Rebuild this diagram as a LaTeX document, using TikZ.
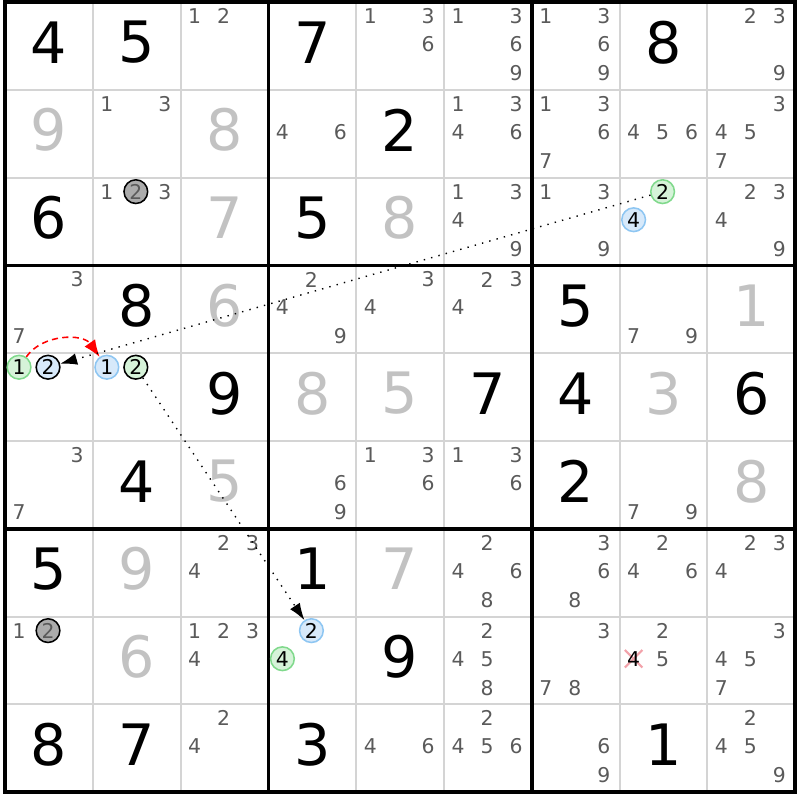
\documentclass[tikz,border=0pt]{standalone}
\usepackage{fontspec}
\setmainfont{DejaVu Sans}
\usetikzlibrary{arrows.meta}

\definecolor{candgray}{HTML}{5A5A5A}
\definecolor{solvedgray}{HTML}{C2C2C2}
\definecolor{gridgray}{HTML}{D4D4D4}
\definecolor{greenline}{HTML}{80D98C}
\definecolor{greenfill}{HTML}{D6F3D9}
\definecolor{blueline}{HTML}{8EC6F2}
\definecolor{bluefill}{HTML}{D7E9FA}
\definecolor{markgray}{HTML}{ABABAB}
\definecolor{crosspink}{HTML}{F2A2AA}

\begin{document}
\begin{tikzpicture}[
    given/.style={font=\fontsize{18.5}{19}\selectfont, text=black, inner sep=0pt},
    solved/.style={given, text=solvedgray},
    cand/.style={font=\fontsize{6.6}{7}\selectfont, text=candgray, inner sep=0pt},
    ring/.style={cand, circle, minimum size=0.27cm, line width=0.5pt, text=black},
    greencand/.style={ring, draw=greenline, fill=greenfill},
    bluecand/.style={ring, draw=blueline, fill=bluefill},
    greenmark/.style={ring, draw=black, fill=greenfill},
    bluemark/.style={ring, draw=black, fill=bluefill},
    graymark/.style={ring, draw=black, fill=markgray, text=candgray},
    link/.style={dotted, line width=0.45pt, -{Latex[length=5.5pt, width=3.8pt]}},
    strong/.style={red, dash pattern=on 2pt off 1.4pt, line width=0.5pt, -{Latex[length=5.5pt, width=4.2pt]}}
  ]
    \useasboundingbox (-0.057,-0.089) rectangle (9.055,9.023);

    \draw[gridgray, line width=0.65pt] (1,0) -- (1,9);
    \draw[gridgray, line width=0.65pt] (2,0) -- (2,9);
    \draw[gridgray, line width=0.65pt] (4,0) -- (4,9);
    \draw[gridgray, line width=0.65pt] (5,0) -- (5,9);
    \draw[gridgray, line width=0.65pt] (7,0) -- (7,9);
    \draw[gridgray, line width=0.65pt] (8,0) -- (8,9);

    \draw[gridgray, line width=0.65pt] (0,1) -- (9,1);
    \draw[gridgray, line width=0.65pt] (0,2) -- (9,2);
    \draw[gridgray, line width=0.65pt] (0,4) -- (9,4);
    \draw[gridgray, line width=0.65pt] (0,5) -- (9,5);
    \draw[gridgray, line width=0.65pt] (0,7) -- (9,7);
    \draw[gridgray, line width=0.65pt] (0,8) -- (9,8);

    \draw[line width=1.2pt] (3,0) -- (3,9);
    \draw[line width=1.2pt] (6,0) -- (6,9);
    \draw[line width=1.2pt] (0,3) -- (9,3);
    \draw[line width=1.2pt] (0,6) -- (9,6);
    \draw[line width=1.3pt] (0,0) -- (9,0) -- (9,9) -- (0,9) -- cycle;

    \node[given] (r1c1) at (0.5,8.54) {4};
    \node[given] (r1c2) at (1.5,8.54) {5};
    \node[cand] (r1c3n1) at (2.16,8.84) {1};
    \node[cand] (r1c3n2) at (2.49,8.84) {2};
    \node[given] (r1c4) at (3.5,8.54) {7};
    \node[cand] (r1c5n1) at (4.16,8.84) {1};
    \node[cand] (r1c5n3) at (4.82,8.84) {3};
    \node[cand] (r1c5n6) at (4.82,8.52) {6};
    \node[cand] (r1c6n1) at (5.16,8.84) {1};
    \node[cand] (r1c6n3) at (5.82,8.84) {3};
    \node[cand] (r1c6n6) at (5.82,8.52) {6};
    \node[cand] (r1c6n9) at (5.82,8.19) {9};
    \node[cand] (r1c7n1) at (6.16,8.84) {1};
    \node[cand] (r1c7n3) at (6.82,8.84) {3};
    \node[cand] (r1c7n6) at (6.82,8.52) {6};
    \node[cand] (r1c7n9) at (6.82,8.19) {9};
    \node[given] (r1c8) at (7.5,8.54) {8};
    \node[cand] (r1c9n2) at (8.49,8.84) {2};
    \node[cand] (r1c9n3) at (8.82,8.84) {3};
    \node[cand] (r1c9n9) at (8.82,8.19) {9};

    \node[solved] (r2c1) at (0.5,7.54) {9};
    \node[cand] (r2c2n1) at (1.16,7.84) {1};
    \node[cand] (r2c2n3) at (1.82,7.84) {3};
    \node[solved] (r2c3) at (2.5,7.54) {8};
    \node[cand] (r2c4n4) at (3.16,7.52) {4};
    \node[cand] (r2c4n6) at (3.82,7.52) {6};
    \node[given] (r2c5) at (4.5,7.54) {2};
    \node[cand] (r2c6n1) at (5.16,7.84) {1};
    \node[cand] (r2c6n3) at (5.82,7.84) {3};
    \node[cand] (r2c6n4) at (5.16,7.52) {4};
    \node[cand] (r2c6n6) at (5.82,7.52) {6};
    \node[cand] (r2c7n1) at (6.16,7.84) {1};
    \node[cand] (r2c7n3) at (6.82,7.84) {3};
    \node[cand] (r2c7n6) at (6.82,7.52) {6};
    \node[cand] (r2c7n7) at (6.16,7.19) {7};
    \node[cand] (r2c8n4) at (7.16,7.52) {4};
    \node[cand] (r2c8n5) at (7.49,7.52) {5};
    \node[cand] (r2c8n6) at (7.82,7.52) {6};
    \node[cand] (r2c9n3) at (8.82,7.84) {3};
    \node[cand] (r2c9n4) at (8.16,7.52) {4};
    \node[cand] (r2c9n5) at (8.49,7.52) {5};
    \node[cand] (r2c9n7) at (8.16,7.19) {7};

    \node[given] (r3c1) at (0.5,6.54) {6};
    \node[cand] (r3c2n1) at (1.16,6.84) {1};
    \node[graymark] (r3c2n2) at (1.49,6.84) {2};
    \node[cand] (r3c2n3) at (1.82,6.84) {3};
    \node[solved] (r3c3) at (2.5,6.54) {7};
    \node[given] (r3c4) at (3.5,6.54) {5};
    \node[solved] (r3c5) at (4.5,6.54) {8};
    \node[cand] (r3c6n1) at (5.16,6.84) {1};
    \node[cand] (r3c6n3) at (5.82,6.84) {3};
    \node[cand] (r3c6n4) at (5.16,6.52) {4};
    \node[cand] (r3c6n9) at (5.82,6.19) {9};
    \node[cand] (r3c7n1) at (6.16,6.84) {1};
    \node[cand] (r3c7n3) at (6.82,6.84) {3};
    \node[cand] (r3c7n9) at (6.82,6.19) {9};
    \node[greencand] (r3c8n2) at (7.49,6.84) {2};
    \node[bluecand] (r3c8n4) at (7.16,6.52) {4};
    \node[cand] (r3c9n2) at (8.49,6.84) {2};
    \node[cand] (r3c9n3) at (8.82,6.84) {3};
    \node[cand] (r3c9n4) at (8.16,6.52) {4};
    \node[cand] (r3c9n9) at (8.82,6.19) {9};

    \node[cand] (r4c1n3) at (0.82,5.84) {3};
    \node[cand] (r4c1n7) at (0.16,5.19) {7};
    \node[given] (r4c2) at (1.5,5.54) {8};
    \node[solved] (r4c3) at (2.5,5.54) {6};
    \node[cand] (r4c4n2) at (3.49,5.84) {2};
    \node[cand] (r4c4n4) at (3.16,5.52) {4};
    \node[cand] (r4c4n9) at (3.82,5.19) {9};
    \node[cand] (r4c5n3) at (4.82,5.84) {3};
    \node[cand] (r4c5n4) at (4.16,5.52) {4};
    \node[cand] (r4c6n2) at (5.49,5.84) {2};
    \node[cand] (r4c6n3) at (5.82,5.84) {3};
    \node[cand] (r4c6n4) at (5.16,5.52) {4};
    \node[given] (r4c7) at (6.5,5.54) {5};
    \node[cand] (r4c8n7) at (7.16,5.19) {7};
    \node[cand] (r4c8n9) at (7.82,5.19) {9};
    \node[solved] (r4c9) at (8.5,5.54) {1};

    \node[greencand] (r5c1n1) at (0.16,4.84) {1};
    \node[bluemark] (r5c1n2) at (0.49,4.84) {2};
    \node[bluecand] (r5c2n1) at (1.16,4.84) {1};
    \node[greenmark] (r5c2n2) at (1.49,4.84) {2};
    \node[given] (r5c3) at (2.5,4.54) {9};
    \node[solved] (r5c4) at (3.5,4.54) {8};
    \node[solved] (r5c5) at (4.5,4.54) {5};
    \node[given] (r5c6) at (5.5,4.54) {7};
    \node[given] (r5c7) at (6.5,4.54) {4};
    \node[solved] (r5c8) at (7.5,4.54) {3};
    \node[given] (r5c9) at (8.5,4.54) {6};

    \node[cand] (r6c1n3) at (0.82,3.84) {3};
    \node[cand] (r6c1n7) at (0.16,3.19) {7};
    \node[given] (r6c2) at (1.5,3.54) {4};
    \node[solved] (r6c3) at (2.5,3.54) {5};
    \node[cand] (r6c4n6) at (3.82,3.52) {6};
    \node[cand] (r6c4n9) at (3.82,3.19) {9};
    \node[cand] (r6c5n1) at (4.16,3.84) {1};
    \node[cand] (r6c5n3) at (4.82,3.84) {3};
    \node[cand] (r6c5n6) at (4.82,3.52) {6};
    \node[cand] (r6c6n1) at (5.16,3.84) {1};
    \node[cand] (r6c6n3) at (5.82,3.84) {3};
    \node[cand] (r6c6n6) at (5.82,3.52) {6};
    \node[given] (r6c7) at (6.5,3.54) {2};
    \node[cand] (r6c8n7) at (7.16,3.19) {7};
    \node[cand] (r6c8n9) at (7.82,3.19) {9};
    \node[solved] (r6c9) at (8.5,3.54) {8};

    \node[given] (r7c1) at (0.5,2.54) {5};
    \node[solved] (r7c2) at (1.5,2.54) {9};
    \node[cand] (r7c3n2) at (2.49,2.84) {2};
    \node[cand] (r7c3n3) at (2.82,2.84) {3};
    \node[cand] (r7c3n4) at (2.16,2.52) {4};
    \node[given] (r7c4) at (3.5,2.54) {1};
    \node[solved] (r7c5) at (4.5,2.54) {7};
    \node[cand] (r7c6n2) at (5.49,2.84) {2};
    \node[cand] (r7c6n4) at (5.16,2.52) {4};
    \node[cand] (r7c6n6) at (5.82,2.52) {6};
    \node[cand] (r7c6n8) at (5.49,2.19) {8};
    \node[cand] (r7c7n3) at (6.82,2.84) {3};
    \node[cand] (r7c7n6) at (6.82,2.52) {6};
    \node[cand] (r7c7n8) at (6.49,2.19) {8};
    \node[cand] (r7c8n2) at (7.49,2.84) {2};
    \node[cand] (r7c8n4) at (7.16,2.52) {4};
    \node[cand] (r7c8n6) at (7.82,2.52) {6};
    \node[cand] (r7c9n2) at (8.49,2.84) {2};
    \node[cand] (r7c9n3) at (8.82,2.84) {3};
    \node[cand] (r7c9n4) at (8.16,2.52) {4};

    \node[cand] (r8c1n1) at (0.16,1.84) {1};
    \node[graymark] (r8c1n2) at (0.49,1.84) {2};
    \node[solved] (r8c2) at (1.5,1.54) {6};
    \node[cand] (r8c3n1) at (2.16,1.84) {1};
    \node[cand] (r8c3n2) at (2.49,1.84) {2};
    \node[cand] (r8c3n3) at (2.82,1.84) {3};
    \node[cand] (r8c3n4) at (2.16,1.52) {4};
    \node[bluecand] (r8c4n2) at (3.49,1.84) {2};
    \node[greencand] (r8c4n4) at (3.16,1.52) {4};
    \node[given] (r8c5) at (4.5,1.54) {9};
    \node[cand] (r8c6n2) at (5.49,1.84) {2};
    \node[cand] (r8c6n4) at (5.16,1.52) {4};
    \node[cand] (r8c6n5) at (5.49,1.52) {5};
    \node[cand] (r8c6n8) at (5.49,1.19) {8};
    \node[cand] (r8c7n3) at (6.82,1.84) {3};
    \node[cand] (r8c7n7) at (6.16,1.19) {7};
    \node[cand] (r8c7n8) at (6.49,1.19) {8};
    \node[cand] (r8c8n2) at (7.49,1.84) {2};
    \draw[crosspink, line width=0.7pt] (7.06,1.42) -- (7.26,1.62);
    \draw[crosspink, line width=0.7pt] (7.06,1.62) -- (7.26,1.42);
    \node[cand, text=black] (r8c8n4) at (7.16,1.52) {4};
    \node[cand] (r8c8n5) at (7.49,1.52) {5};
    \node[cand] (r8c9n3) at (8.82,1.84) {3};
    \node[cand] (r8c9n4) at (8.16,1.52) {4};
    \node[cand] (r8c9n5) at (8.49,1.52) {5};
    \node[cand] (r8c9n7) at (8.16,1.19) {7};

    \node[given] (r9c1) at (0.5,0.54) {8};
    \node[given] (r9c2) at (1.5,0.54) {7};
    \node[cand] (r9c3n2) at (2.49,0.84) {2};
    \node[cand] (r9c3n4) at (2.16,0.52) {4};
    \node[given] (r9c4) at (3.5,0.54) {3};
    \node[cand] (r9c5n4) at (4.16,0.52) {4};
    \node[cand] (r9c5n6) at (4.82,0.52) {6};
    \node[cand] (r9c6n2) at (5.49,0.84) {2};
    \node[cand] (r9c6n4) at (5.16,0.52) {4};
    \node[cand] (r9c6n5) at (5.49,0.52) {5};
    \node[cand] (r9c6n6) at (5.82,0.52) {6};
    \node[cand] (r9c7n6) at (6.82,0.52) {6};
    \node[cand] (r9c7n9) at (6.82,0.19) {9};
    \node[given] (r9c8) at (7.5,0.54) {1};
    \node[cand] (r9c9n2) at (8.49,0.84) {2};
    \node[cand] (r9c9n4) at (8.16,0.52) {4};
    \node[cand] (r9c9n5) at (8.49,0.52) {5};
    \node[cand] (r9c9n9) at (8.82,0.19) {9};

    \draw[strong] (r5c1n1) to[bend left=55] (r5c2n1);
    \draw[link] (r3c8n2) -- (r5c1n2);
    \draw[link] (r5c2n2) -- (r8c4n2);
  \end{tikzpicture}
\end{document}
